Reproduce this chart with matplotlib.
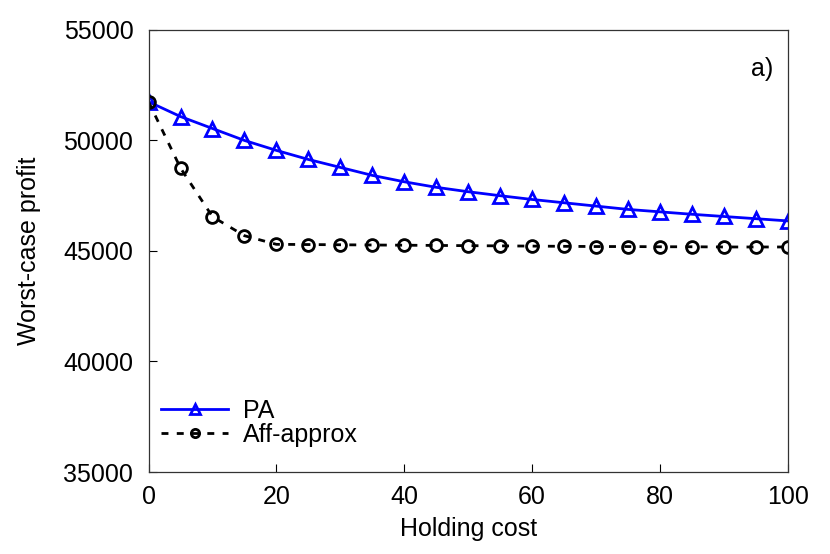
"""Worst-case profit vs holding cost."""
import matplotlib
matplotlib.use("Agg")
import matplotlib.pyplot as plt

holding_cost = [0, 5, 10, 15, 20, 25, 30, 35, 40, 45, 50,
                55, 60, 65, 70, 75, 80, 85, 90, 95, 100]
pa_profit = [51750, 51080, 50540, 50000, 49550, 49140, 48780, 48420,
             48130, 47880, 47680, 47500, 47330, 47180, 47030, 46880,
             46770, 46660, 46560, 46460, 46360]
aff_profit = [51750, 48750, 46550, 45690, 45300, 45290, 45280, 45270,
              45260, 45250, 45240, 45230, 45220, 45210, 45200, 45200,
              45190, 45190, 45180, 45180, 45180]

plt.rcParams["font.family"] = ["Liberation Sans", "DejaVu Sans"]

fig = plt.figure(figsize=(8.3, 5.54), dpi=100)
ax = fig.add_axes([0.179, 0.148, 0.770, 0.798])

ax.plot(holding_cost, pa_profit, "-", color="blue", lw=2.0,
        marker="^", ms=10, mfc="none", mec="blue", mew=2.0, label="PA")
ax.plot(holding_cost, aff_profit, "--", color="black", lw=2.0,
        dashes=(2.5, 3), marker="o", ms=8.5, mfc="none", mec="black",
        mew=2.0, label="Aff-approx")

ax.set_xlim(0, 100)
ax.set_ylim(35000, 55000)
ax.set_xticks(range(0, 101, 20))
ax.set_yticks(range(35000, 55001, 5000))
ax.tick_params(axis="y", direction="in", length=6, labelsize=18, pad=11,
               width=0.8)
ax.tick_params(axis="x", direction="in", length=6, labelsize=18, pad=9,
               width=0.8)
for s in ax.spines.values():
    s.set_linewidth(0.9)
    s.set_color("#333333")
ax.set_xlabel("Holding cost", fontsize=18, labelpad=6)
ax.set_ylabel("Worst-case profit", fontsize=18, labelpad=16)
ax.text(0.977, 0.912, "a)", transform=ax.transAxes, fontsize=18,
        ha="right", va="center")
ax.legend(loc="lower left", bbox_to_anchor=(-0.02, 0), frameon=False,
          fontsize=18, handlelength=2.7, handletextpad=0.6,
          labelspacing=0.0, borderaxespad=0.6, markerscale=0.7)

fig.savefig("out.png", dpi=100)
